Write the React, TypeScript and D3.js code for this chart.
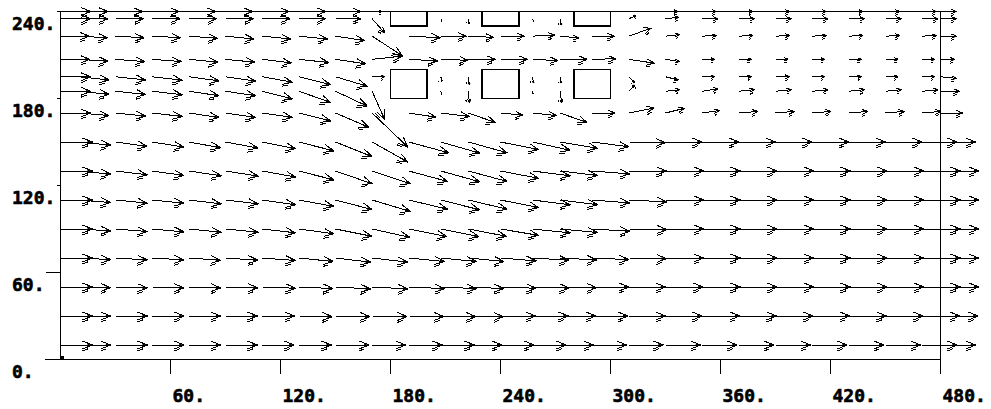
import React, { useEffect, useRef } from 'react';
import * as d3 from 'd3';

// grid columns (x) and rows (y) where the velocity vectors sit
const xCols = [0, 10, 30, 50, 70, 90, 110, 130, 150, 170, 190, 207.5, 222.5, 240, 257.5, 272.5, 290, 310, 330, 350, 370, 390, 410, 430, 450, 470, 480];
const yRows = [10, 30, 50, 70, 90, 110, 130, 150, 170, 185, 195, 207, 223, 235, 240];

// horizontal component, one list per row (same order as yRows)
const uRows = [
  [1.0, 1.0, 1.0, 1.0, 1.0, 1.0, 1.0, 1.02, 1.05, 1.05, 1.05, 1.05, 1.05, 1.05, 1.05, 1.05, 1.08, 1.08, 1.1, 1.1, 1.1, 1.1, 1.1, 1.1, 1.1, 1.1, 1.1],
  [1.0, 1.0, 1.0, 1.0, 1.0, 1.0, 1.02, 1.05, 1.08, 1.1, 1.1, 1.1, 1.1, 1.1, 1.12, 1.12, 1.12, 1.15, 1.15, 1.18, 1.18, 1.18, 1.18, 1.18, 1.18, 1.18, 1.18],
  [1.0, 1.0, 1.0, 1.0, 1.0, 1.02, 1.05, 1.08, 1.1, 1.12, 1.12, 1.12, 1.12, 1.12, 1.15, 1.15, 1.15, 1.15, 1.18, 1.2, 1.2, 1.2, 1.2, 1.2, 1.2, 1.2, 1.2],
  [1.0, 1.0, 1.0, 1.0, 1.0, 1.02, 1.05, 1.08, 1.1, 1.12, 1.12, 1.12, 1.12, 1.12, 1.15, 1.15, 1.15, 1.18, 1.2, 1.2, 1.2, 1.2, 1.2, 1.2, 1.2, 1.2, 1.2],
  [1.0, 1.0, 1.0, 1.0, 1.02, 1.03, 1.05, 1.1, 1.15, 1.18, 1.2, 1.2, 1.2, 1.2, 1.18, 1.18, 1.18, 1.2, 1.2, 1.2, 1.2, 1.2, 1.2, 1.2, 1.2, 1.2, 1.2],
  [1.0, 1.0, 1.0, 1.0, 1.02, 1.03, 1.05, 1.1, 1.15, 1.2, 1.22, 1.22, 1.22, 1.2, 1.18, 1.18, 1.18, 1.2, 1.2, 1.2, 1.2, 1.2, 1.2, 1.2, 1.2, 1.2, 1.2],
  [1.0, 1.0, 1.0, 1.0, 1.02, 1.03, 1.05, 1.1, 1.15, 1.2, 1.22, 1.22, 1.22, 1.2, 1.18, 1.18, 1.18, 1.18, 1.2, 1.2, 1.2, 1.2, 1.2, 1.2, 1.2, 1.2, 1.2],
  [1.0, 1.0, 1.0, 1.0, 1.0, 1.02, 1.05, 1.1, 1.15, 1.12, 1.25, 1.22, 1.22, 1.2, 1.18, 1.18, 1.15, 1.15, 1.15, 1.15, 1.15, 1.15, 1.15, 1.15, 1.15, 1.1, 1.1],
  [0.95, 0.95, 0.95, 0.95, 0.95, 0.95, 0.95, 1.0, 1.05, 1.12, 0.85, 0.9, 0.85, 0.7, 0.75, 0.85, 0.72, 0.8, 0.6, 0.55, 0.6, 0.6, 0.6, 0.6, 0.6, 0.6, 0.7],
  [0.95, 0.95, 0.95, 0.95, 0.95, 0.95, 0.95, 1.0, 1.0, 0.4, 0, 0.02, 0.03, 0, 0.02, 0.05, 0, 0.18, 0.45, 0.5, 0.5, 0.5, 0.5, 0.5, 0.5, 0.5, 0.6],
  [0.95, 0.95, 0.95, 0.95, 0.95, 0.95, 0.95, 1.0, 1.0, 0.4, 0, 0.02, 0.03, 0, 0.03, 0.03, 0, 0.18, 0.4, 0.4, 0.4, 0.45, 0.4, 0.4, 0.4, 0.4, 0.5],
  [0.92, 0.92, 0.92, 0.92, 0.92, 0.92, 0.92, 0.95, 0.95, 0.95, 0.9, 0.85, 0.85, 0.85, 0.8, 0.85, 0.75, 0.8, 0.45, 0.4, 0.4, 0.4, 0.4, 0.4, 0.4, 0.4, 0.45],
  [0.9, 0.9, 0.9, 0.9, 0.9, 0.9, 0.9, 0.9, 0.92, 0.95, 1.0, 0.8, 0.8, 0.75, 0.7, 0.6, 0.7, 0.7, 0.45, 0.45, 0.45, 0.45, 0.45, 0.45, 0.45, 0.45, 0.5],
  [0.95, 0.92, 0.88, 0.88, 0.88, 0.88, 0.88, 0.85, 0.8, 0.4, 0, 0.02, 0.02, 0, 0.03, 0.04, 0, 0.22, 0.42, 0.5, 0.5, 0.5, 0.5, 0.5, 0.5, 0.5, 0.5],
  [0.95, 0.92, 0.85, 0.85, 0.85, 0.85, 0.85, 0.85, 0.8, 0.3, 0, 0, 0, 0, 0, 0, 0, 0, 0.4, 0.45, 0.45, 0.45, 0.45, 0.45, 0.45, 0.45, 0.5],
];

// vertical component, one list per row
const vRows = [
  [0, 0, 0, 0, 0, 0, 0, 0, 0, 0, 0, 0, 0, 0, 0, 0, 0, 0, 0, 0, 0, 0, 0, 0, 0, 0, 0],
  [0, 0, 0, 0, 0, 0, 0, -0.02, -0.02, -0.02, -0.02, -0.02, -0.02, 0, 0, 0, 0, 0, 0, 0, 0, 0, 0, 0, 0, 0, 0],
  [0, -0.02, -0.03, -0.03, -0.03, -0.03, -0.04, -0.05, -0.06, -0.06, -0.05, -0.05, -0.05, -0.04, -0.03, -0.02, 0, 0, 0, 0, 0, 0, 0, 0, 0, 0, 0],
  [0, -0.05, -0.06, -0.06, -0.07, -0.07, -0.08, -0.11, -0.13, -0.13, -0.11, -0.11, -0.11, -0.09, -0.07, -0.06, -0.05, -0.02, 0, 0, 0, 0, 0, 0, 0, 0, 0],
  [0, -0.06, -0.08, -0.09, -0.1, -0.1, -0.12, -0.15, -0.23, -0.26, -0.24, -0.24, -0.23, -0.2, -0.12, -0.11, -0.07, -0.02, 0, 0, 0, 0, 0, 0, 0, 0, 0],
  [0, -0.08, -0.1, -0.1, -0.12, -0.12, -0.15, -0.2, -0.3, -0.36, -0.29, -0.31, -0.29, -0.24, -0.15, -0.15, -0.09, -0.06, 0, 0, 0, 0, 0, 0, 0, 0, 0],
  [0, -0.1, -0.12, -0.14, -0.15, -0.16, -0.19, -0.28, -0.4, -0.4, -0.33, -0.34, -0.33, -0.23, -0.15, -0.14, -0.09, 0, 0, 0, 0, 0, 0, 0, 0, 0, 0],
  [0, -0.1, -0.14, -0.16, -0.18, -0.19, -0.21, -0.28, -0.46, -0.63, -0.34, -0.35, -0.34, -0.24, -0.26, -0.2, -0.15, -0.02, 0, 0, 0, 0, 0, 0, 0, 0, 0],
  [0, -0.08, -0.1, -0.11, -0.14, -0.14, -0.14, -0.25, -0.45, -1.07, -0.13, -0.11, -0.3, -0.07, -0.08, -0.3, 0, 0.16, 0.15, 0.08, 0.05, 0.05, 0.05, 0.05, 0.05, 0.05, 0],
  [0, -0.1, -0.1, -0.11, -0.14, -0.14, -0.24, -0.35, -0.47, -0.9, 0, -0.12, -0.37, 0, -0.1, -0.37, 0, 0.2, 0.05, 0.08, 0.05, 0.05, 0.05, 0.05, 0.05, 0.05, 0],
  [0, -0.1, -0.1, -0.11, -0.13, -0.14, -0.17, -0.25, -0.3, 0, 0, -0.17, -0.25, 0, -0.2, -0.2, 0, -0.18, -0.1, 0, 0, 0, 0, 0, 0, 0, -0.05],
  [0, -0.06, -0.07, -0.07, -0.09, -0.09, -0.11, -0.1, -0.14, 0.1, -0.05, -0.03, 0, 0, -0.04, 0, 0.02, -0.12, -0.07, 0, 0, 0, 0, 0, 0, 0, 0],
  [0, -0.05, -0.05, -0.05, -0.07, -0.09, -0.09, -0.09, -0.14, -0.62, -0.05, 0, -0.04, 0, 0.04, -0.06, 0, 0.25, 0.05, 0.02, 0.02, 0.02, 0.02, 0.02, 0.02, 0.02, 0],
  [0, 0, 0, 0, 0, 0, 0, 0, 0, -0.45, 0, -0.1, -0.15, 0, -0.1, -0.2, 0, 0.1, 0.05, 0, 0, 0, 0, 0, 0, 0, 0],
  [0, 0, 0, 0, 0, 0, 0, 0, 0, 0, 0, 0, 0, 0, 0, 0, 0, 0, 0, 0, 0, 0, 0, 0, 0, 0, 0],
];

// solid blocks in the flow
const blockX = [[180, 200], [230, 250], [280, 300]];
const blockY = [[230, 240], [180, 200]];

const xTicks = [60, 120, 180, 240, 300, 360, 420, 480];
const yTicks = [0, 60, 120, 180, 240];

const FONT = '"DejaVu Sans Mono", monospace';

type Vec = { x: number; y: number; u: number; v: number };

const App = () => {
  const chartRef = useRef<HTMLDivElement>(null);

  useEffect(() => {
    const width = 991;
    const height = 409;
    const speed = 32; // px per unit velocity

    const xScale = d3.scaleLinear().domain([0, 480]).range([60.5, 940.5]);
    const yScale = d3.scaleLinear().domain([0, 240]).range([359.5, 11.5]);

    d3.select(chartRef.current).selectAll('*').remove();

    const svg = d3.select(chartRef.current)
      .append('svg')
      .attr('width', width)
      .attr('height', height)
      .style('position', 'absolute')
      .style('left', 0)
      .style('top', 0)
      .style('background', '#fff');

    const vecs: Vec[] = [];
    yRows.forEach((y, i) => {
      xCols.forEach((x, j) => {
        const u = uRows[i][j];
        const v = vRows[i][j];
        if (u === 0 && v === 0) return;
        vecs.push({ x, y, u, v });
      });
    });

    const ends = (d: Vec) => {
      const x0 = xScale(d.x);
      const y0 = yScale(d.y);
      const dx = d.u * speed;
      const dy = -d.v * speed;
      return { x0, y0, x1: x0 + dx, y1: y0 + dy, dx, dy, L: Math.hypot(dx, dy) };
    };

    const arrowPath = (d: Vec) => {
      const { x0, y0, x1, y1, dx, dy, L } = ends(d);
      let p = `M${x0},${y0}L${x1},${y1}`;
      if (L < 4) return p;
      const cx = dx / L, cy = dy / L;
      const nx = -cy, ny = cx;
      const h = Math.min(10, 0.32 * L);
      const w = 0.4 * h;
      p += `M${x1},${y1}L${x1 - h * cx - w * nx},${y1 - h * cy - w * ny}`;
      p += `M${x1},${y1}L${x1 - h * cx + w * nx},${y1 - h * cy + w * ny}`;
      const o = 2;
      p += `M${x1 - 0.45 * h * cx + (0.45 * w + o) * nx},${y1 - 0.45 * h * cy + (0.45 * w + o) * ny}`;
      p += `L${x1 - h * cx + (w + o) * nx},${y1 - h * cy + (w + o) * ny}`;
      return p;
    };

    // small solid wedge at each tip
    const tipPath = (d: Vec) => {
      const { x1, y1, dx, dy, L } = ends(d);
      if (L < 6) return '';
      const cx = dx / L, cy = dy / L;
      const nx = -cy, ny = cx;
      const h = Math.min(5, 0.16 * L);
      const w = 1.6;
      return `M${x1},${y1}L${x1 - h * cx + w * nx},${y1 - h * cy + w * ny}L${x1 - h * cx - w * nx},${y1 - h * cy - w * ny}Z`;
    };

    const g = svg.append('g')
      .attr('fill', 'none')
      .attr('stroke', '#000')
      .attr('shape-rendering', 'crispEdges');

    g.selectAll('path.vec')
      .data(vecs)
      .enter()
      .append('path')
      .attr('class', 'vec')
      .attr('d', arrowPath)
      .attr('stroke-width', 1);

    svg.append('g')
      .attr('fill', '#000')
      .selectAll('path.tip')
      .data(vecs)
      .enter()
      .append('path')
      .attr('class', 'tip')
      .attr('d', tipPath);

    // blocks
    blockX.forEach(([xa, xb]) => {
      blockY.forEach(([ya, yb]) => {
        svg.append('rect')
          .attr('x', xScale(xa))
          .attr('y', yScale(yb))
          .attr('width', xScale(xb) - xScale(xa))
          .attr('height', yScale(ya) - yScale(yb))
          .attr('fill', '#fff')
          .attr('stroke', '#000')
          .attr('stroke-width', 1.5)
          .attr('shape-rendering', 'crispEdges');
      });
    });

    // frame and axes
    const axis = svg.append('g')
      .attr('stroke', '#000')
      .attr('stroke-width', 1.5)
      .attr('shape-rendering', 'crispEdges');

    axis.append('line')
      .attr('x1', xScale(0)).attr('x2', xScale(480))
      .attr('y1', yScale(240)).attr('y2', yScale(240));
    axis.append('line')
      .attr('x1', xScale(480)).attr('x2', xScale(480))
      .attr('y1', yScale(240)).attr('y2', yScale(0));
    axis.append('line')
      .attr('x1', xScale(0)).attr('x2', xScale(0))
      .attr('y1', yScale(240)).attr('y2', yScale(0));
    axis.append('line')
      .attr('x1', 45).attr('x2', xScale(480))
      .attr('y1', yScale(0)).attr('y2', yScale(0));

    xTicks.forEach(t => {
      axis.append('line')
        .attr('x1', xScale(t)).attr('x2', xScale(t))
        .attr('y1', yScale(0)).attr('y2', yScale(0) + 14);
    });
    yTicks.forEach(t => {
      const len = t <= 60 ? 15 : 4;
      axis.append('line')
        .attr('x1', xScale(0) - len).attr('x2', xScale(0))
        .attr('y1', yScale(t)).attr('y2', yScale(t));
    });

    svg.append('rect')
      .attr('x', 61).attr('y', 356)
      .attr('width', 3).attr('height', 3)
      .attr('fill', '#000');

    const labels = svg.append('g')
      .attr('font-family', FONT)
      .attr('font-size', 18)
      .attr('font-weight', 'bold')
      .attr('fill', '#000')
      .attr('stroke', '#000')
      .attr('stroke-width', 0.6);

    xTicks.forEach(t => {
      labels.append('text')
        .attr('x', xScale(t) + 2)
        .attr('y', 401.5)
        .text(`${t}.`);
    });
    yTicks.forEach(t => {
      labels.append('text')
        .attr('x', 12)
        .attr('y', yScale(t) + 18)
        .text(`${t}.`);
    });
  }, []);

  return <div ref={chartRef}></div>;
};

export default App;
